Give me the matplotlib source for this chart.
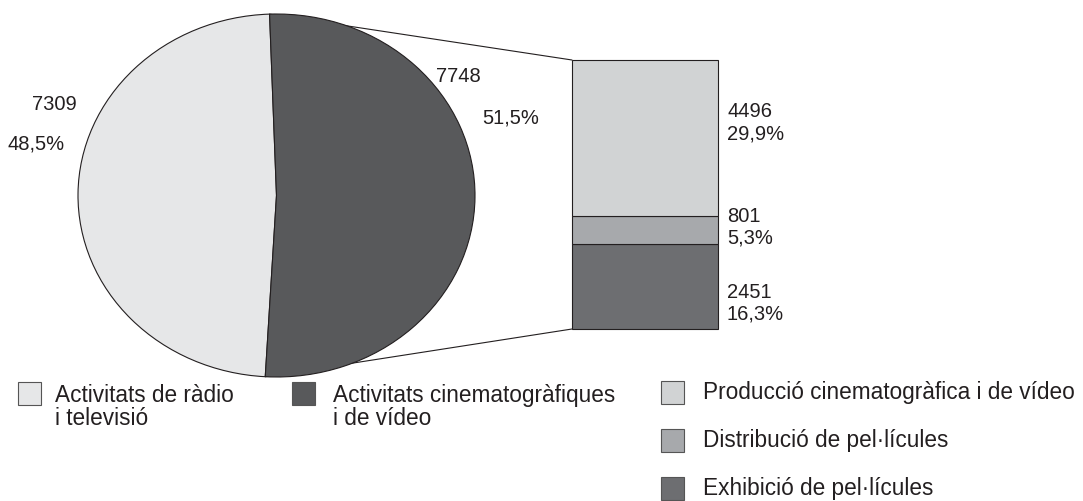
import matplotlib
matplotlib.use("Agg")
import matplotlib.pyplot as plt
from matplotlib.patches import ConnectionPatch, Rectangle
import numpy as np

plt.rcParams['font.family'] = ['Liberation Sans', 'DejaVu Sans']

# data
pie_labels = ["Activitats de ràdio\ni televisió", "Activitats cinematogràfiques\ni de vídeo"]
pie_values = [7309, 7748]
pie_colors = ["#e6e7e8", "#58595b"]

bar_labels = ["Producció cinematogràfica i de vídeo", "Distribució de pel·lícules", "Exhibició de pel·lícules"]
bar_values = [4496, 801, 2451]
bar_colors = ["#d1d3d4", "#a7a9ac", "#6d6e71"]

total = sum(pie_values)
txt = "#231f20"
edge = "#231f20"
fs_val = 14.5
fs_leg = 16.3

def pct(v):
    return ("%.1f%%" % (100.0 * v / total)).replace(".", ",")

W, H = 1083, 501
fig = plt.figure(figsize=(W / 100, H / 100), dpi=100)

def px_axes(x0, y0, x1, y1):
    return fig.add_axes([x0 / W, 1 - y1 / H, (x1 - x0) / W, (y1 - y0) / H])

# overlay for text and legend keys
ax0 = fig.add_axes([0, 0, 1, 1])
ax0.set_xlim(0, W)
ax0.set_ylim(H, 0)
ax0.axis("off")
ax0.set_zorder(1)

# pie (slightly elliptical)
ax_pie = px_axes(78, 14, 475, 377)
wedges, _ = ax_pie.pie(pie_values, colors=pie_colors, startangle=92, radius=1,
                       wedgeprops=dict(edgecolor=edge, linewidth=0.8))
ax_pie.set_aspect("auto")
ax_pie.set_xlim(-1, 1)
ax_pie.set_ylim(-1, 1)
ax_pie.axis("off")
ax_pie.set_zorder(3)

# stacked bar, bottom segment is the last one
ax_bar = px_axes(572, 60, 718, 329)
bottom = 0
for v, c in zip(bar_values[::-1], bar_colors[::-1]):
    ax_bar.bar(0, v, width=1, bottom=bottom, color=c, edgecolor=edge, linewidth=0.8, clip_on=False)
    bottom += v
ax_bar.set_xlim(-0.5, 0.5)
ax_bar.set_ylim(0, pie_values[1])
ax_bar.axis("off")
ax_bar.set_zorder(3)

# connector lines from the dark wedge to the bar
dark = wedges[1]
for th, yb in [(dark.theta2, pie_values[1]), (dark.theta1, 0)]:
    t = np.deg2rad(th)
    con = ConnectionPatch(xyA=(np.cos(t), np.sin(t)), coordsA=ax_pie.transData,
                          xyB=(-0.5, yb), coordsB=ax_bar.transData,
                          color=edge, linewidth=0.8)
    con.set_zorder(2)
    fig.add_artist(con)

# pie value labels
ax0.text(32, 110, str(pie_values[0]), fontsize=fs_val, color=txt, va="baseline")
ax0.text(8, 149, pct(pie_values[0]), fontsize=fs_val, color=txt, va="baseline")
ax0.text(436, 82, str(pie_values[1]), fontsize=fs_val, color=txt, va="baseline")
ax0.text(482, 123, pct(pie_values[1]), fontsize=fs_val, color=txt, va="baseline")

# bar value labels
bar_label_y = [117, 222, 298]
for v, y in zip(bar_values, bar_label_y):
    ax0.text(727, y, str(v), fontsize=fs_val, color=txt, va="baseline")
    ax0.text(727, y + 22, pct(v), fontsize=fs_val, color=txt, va="baseline")

# legend for the pie
for x, tx, c, lab in zip([18, 292], [55, 333], pie_colors, pie_labels):
    ax0.add_patch(Rectangle((x, 382), 23, 23, facecolor=c, edgecolor="#555555", linewidth=0.8))
    for i, line in enumerate(lab.split("\n")):
        ax0.text(tx, 402 + 23 * i, line, fontsize=fs_leg, color=txt, va="baseline")

# legend for the bar
for y, c, lab in zip([399, 447, 495], bar_colors, bar_labels):
    ax0.add_patch(Rectangle((661, y - 18), 23, 23, facecolor=c, edgecolor="#555555", linewidth=0.8))
    ax0.text(703, y, lab, fontsize=fs_leg, color=txt, va="baseline")

fig.savefig("out.png", dpi=100)
